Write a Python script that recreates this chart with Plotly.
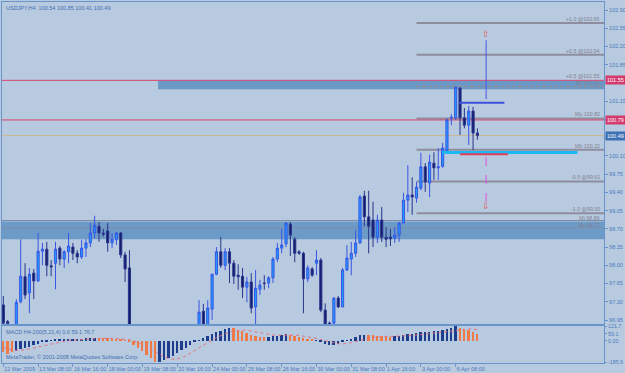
import plotly.graph_objects as go

# ---------------- data ----------------
bar_index = list(range(110))
opens = [97.24, 96.92, 96.55, 96.80, 97.30, 97.78, 97.47, 97.85, 97.70, 98.27,
         98.31, 97.99, 98.04, 98.33, 98.12, 98.26, 98.35, 98.23, 98.16, 98.33,
         98.43, 98.62, 98.75, 98.62, 98.66, 98.43, 98.49, 98.62, 98.20, 97.95,
         95.80, 95.40, 95.00, 94.60, 94.10, 93.80, 94.10, 94.40, 94.70, 95.00,
         94.80, 95.20, 95.60, 96.10, 96.40, 96.75, 97.12, 96.85, 97.16, 97.83,
         98.26, 98.00, 98.26, 98.04, 97.81, 97.79, 97.58, 97.68, 97.20, 97.54,
         97.66, 97.66, 97.76, 98.12, 98.33, 98.41, 98.79, 98.50, 98.26, 98.23,
         97.74, 97.93, 98.04, 98.10, 97.14, 96.89, 96.89, 97.37, 97.20, 97.91,
         98.12, 98.23, 98.43, 99.33, 98.93, 98.87, 98.54, 98.87, 98.54, 98.54,
         98.52, 98.58, 98.81, 99.25, 99.35, 99.29, 99.48, 99.89, 99.58, 99.96,
         99.87, 99.90, 100.20, 100.83, 100.83, 101.40, 100.83, 100.69, 100.96, 100.54]
highs = [97.41, 96.95, 96.84, 97.35, 98.50, 98.04, 97.95, 97.93, 98.62, 98.43,
         98.45, 98.10, 98.45, 98.37, 98.29, 98.62, 98.43, 98.29, 98.49, 98.50,
         98.81, 98.95, 98.83, 98.70, 98.81, 98.62, 98.64, 98.64, 98.26, 98.29,
         96.20, 95.70, 95.30, 94.90, 94.50, 94.30, 94.60, 94.90, 95.20, 95.30,
         95.40, 95.80, 96.30, 96.60, 96.80, 97.33, 97.26, 97.33, 97.83, 98.35,
         98.54, 98.33, 98.33, 98.10, 98.02, 97.95, 97.78, 97.85, 97.91, 97.72,
         97.81, 97.79, 98.16, 98.43, 98.70, 98.83, 98.83, 98.54, 98.29, 98.26,
         98.00, 97.97, 98.29, 98.14, 97.27, 96.92, 97.39, 97.41, 97.95, 98.39,
         98.45, 98.68, 99.35, 99.43, 99.43, 99.22, 98.97, 99.12, 98.73, 98.70,
         98.73, 98.83, 99.39, 99.92, 99.69, 99.60, 100.16, 99.96, 100.12, 100.17,
         100.25, 100.35, 100.82, 100.90, 101.43, 101.42, 101.02, 101.06, 101.04, 100.63]
lows = [96.80, 96.80, 96.45, 96.70, 97.27, 97.35, 97.08, 97.35, 97.68, 98.00,
        97.79, 97.79, 97.54, 98.00, 97.95, 98.04, 98.10, 98.04, 98.12, 98.16,
        98.35, 98.52, 98.45, 98.55, 98.26, 98.33, 98.39, 98.14, 97.68, 95.30,
        95.10, 94.80, 94.40, 93.90, 93.55, 93.60, 93.90, 94.20, 94.50, 94.60,
        94.70, 95.10, 95.50, 95.90, 96.20, 96.60, 96.70, 96.70, 96.95, 97.81,
        97.95, 97.91, 97.66, 97.64, 97.53, 97.37, 97.29, 97.08, 96.85, 97.43,
        97.53, 97.56, 97.66, 98.06, 98.23, 98.35, 98.18, 98.06, 98.20, 97.08,
        97.68, 97.78, 97.81, 97.10, 96.80, 96.75, 96.80, 97.18, 97.20, 97.89,
        97.81, 98.16, 98.41, 98.75, 98.23, 98.35, 98.43, 98.45, 98.35, 98.37,
        98.43, 98.45, 98.81, 99.02, 98.97, 99.20, 99.44, 99.41, 99.31, 99.64,
        99.64, 99.87, 100.17, 100.69, 100.79, 100.50, 100.63, 100.31, 100.21, 100.41]
closes = [96.89, 96.88, 96.78, 97.29, 97.79, 97.43, 97.83, 97.70, 98.27, 98.31,
          98.00, 97.97, 98.31, 98.12, 98.26, 98.37, 98.23, 98.16, 98.33, 98.43,
          98.62, 98.77, 98.62, 98.60, 98.43, 98.50, 98.62, 98.20, 97.93, 95.80,
          95.40, 95.00, 94.60, 94.10, 93.80, 94.10, 94.40, 94.70, 95.00, 94.80,
          95.20, 95.60, 96.10, 96.40, 96.70, 97.10, 96.85, 97.18, 97.83, 98.26,
          98.00, 98.26, 98.04, 97.79, 97.78, 97.58, 97.68, 97.18, 97.56, 97.62,
          97.65, 97.76, 98.12, 98.33, 98.39, 98.81, 98.58, 98.23, 98.23, 97.74,
          97.95, 97.81, 98.10, 97.14, 96.87, 96.86, 97.37, 97.20, 97.91, 98.14,
          98.23, 98.43, 99.31, 98.93, 98.75, 98.54, 98.87, 98.54, 98.50, 98.51,
          98.58, 98.81, 99.25, 99.35, 99.31, 99.50, 99.89, 99.60, 99.98, 99.87,
          99.89, 100.25, 100.79, 100.84, 101.42, 100.83, 100.69, 100.96, 100.54, 100.49]

macd_hist = [-100, -110, -95, -88, -75, -62, -50, -38, -25, -15,
             -8, 4, 8, 11, 13, 15, 16, 17, 18, 20,
             23, 26, 24, 22, 20, 18, 16, 12, 5, -15,
             -40, -65, -90, -118, -150, -185, -178, -165, -148, -128,
             -105, -82, -60, -38, -15, 5, 20, 38, 55, 70,
             85, 98, 110, 105, 95, 80, 65, 52, 42, 35,
             30, 32, 38, 44, 50, 55, 50, 42, 35, 25,
             15, 8, 3, -12, -28, -38, -36, -28, -15, 5,
             18, 28, 45, 52, 48, 45, 42, 40, 37, 35,
             38, 42, 50, 55, 58, 62, 70, 74, 78, 82,
             86, 92, 100, 106, 121, 110, 100, 90, 78, 59]
macd_rising = [0, 0, 0, 1, 1, 1, 1, 1, 1, 1,
               1, 1, 1, 1, 1, 1, 1, 1, 1, 1,
               1, 1, 0, 0, 0, 0, 0, 0, 0, 0,
               0, 0, 0, 0, 0, 0, 1, 1, 1, 1,
               1, 1, 1, 1, 1, 1, 1, 1, 1, 1,
               1, 1, 1, 0, 0, 0, 0, 0, 0, 0,
               0, 1, 1, 1, 1, 1, 0, 0, 0, 0,
               0, 0, 1, 1, 1, 1, 1, 1, 1, 1,
               1, 1, 1, 1, 0, 0, 0, 0, 0, 0,
               1, 1, 1, 1, 1, 1, 1, 1, 1, 1,
               1, 1, 1, 1, 1, 0, 0, 0, 0, 0]
macd_signal = [-60, -70, -78, -82, -82, -78, -70, -62, -52, -42,
               -33, -24, -16, -10, -5, 0, 4, 7, 9, 11,
               14, 17, 19, 20, 20, 20, 19, 17, 14, 8,
               -2, -15, -32, -50, -72, -95, -118, -138, -152, -158,
               -155, -145, -128, -108, -85, -60, -38, -15, 5, 25,
               42, 58, 72, 82, 88, 90, 88, 82, 75, 67,
               58, 52, 48, 47, 48, 50, 50, 48, 45, 40,
               33, 26, 19, 10, 0, -10, -20, -26, -28, -24,
               -17, -8, 3, 14, 22, 28, 32, 35, 36, 37,
               37, 38, 40, 42, 45, 48, 52, 56, 60, 64,
               68, 73, 78, 83, 90, 96, 99, 100, 98, 95]

date_tick_bars = [0, 8, 16, 24, 32, 40, 48, 56, 64, 72, 80, 88, 96, 104]
date_tick_labels = ["12 Mar 2009", "13 Mar 08:00", "16 Mar 16:00", "18 Mar 00:00",
                    "19 Mar 08:00", "20 Mar 16:00", "24 Mar 00:00", "25 Mar 08:00",
                    "26 Mar 16:00", "30 Mar 00:00", "31 Mar 08:00", "1 Apr 16:00",
                    "3 Apr 00:00", "6 Apr 08:00"]
# ticks hidden under the highlighted price boxes carry an empty label
price_ticks = [96.95, 97.30, 97.65, 98.00, 98.35, 98.70, 99.05, 99.40, 99.75, 100.10,
               100.45, 100.80, 101.15, 101.50, 101.85, 102.20, 102.55, 102.90]
price_tick_labels = ["96.95", "97.30", "97.65", "98.00", "98.35", "98.70", "99.05", "99.40",
                     "99.75", "100.10", "", "", "101.15", "", "101.85",
                     "102.20", "102.55", "102.90"]
macd_ticks = [121.7, 59.1, 0, -185.9]
macd_tick_labels = ["121.7", "59.1", "0.00", "-185.9"]

# level lines drawn from the projection start
level_start_bar = 95
level_prices = [102.65, 102.04, 101.55, 101.43, 100.82, 100.22, 99.61, 99.00]
level_labels = ["+1.0 @102.65", "+0.5 @102.04", "+0.5 @101.55", "Mt 101.43",
                "Mp 100.82", "Mb 100.22", "-0.5 @99.61", "-1.0 @99.00"]
lower_zone = [98.50, 98.84]
lower_zone_levels = [98.86, 98.72]
lower_zone_labels = ["Mt 98.86", "Mp 98.72"]
upper_zone = [101.38, 101.54]
upper_zone_start_bar = 35.6
red_levels = [101.55, 100.79]
bid_price = 100.49
cyan_level = 100.165
cyan_bars = [101, 132]
red_short_level = 100.13
red_short_bars = [105, 116]
target_bar = 111
up_line = [101.19, 102.32]
up_hline_level = 101.12
up_hline_bars = [104.8, 115.2]
up_arrow_price = 102.44
down_line = [100.08, 99.22]
down_arrow_price = 99.14

# ---------------- style ----------------
BG = "#B8CADF"
AX = "#6A94CC"
TXT = "#4A7ABD"
FONT = "Liberation Sans"
X_MIN, X_MAX = -0.3, 138.1
Y_MIN, Y_MAX = 96.873, 103.054

fig = go.Figure()

fig.add_trace(go.Candlestick(
    x=bar_index, open=opens, high=highs, low=lows, close=closes,
    increasing=dict(line=dict(color="#3A55E4", width=1), fillcolor="#1E9CFF"),
    decreasing=dict(line=dict(color="#2A358A", width=1), fillcolor="#11196C"),
    xaxis="x", yaxis="y", showlegend=False, hoverinfo="skip"))

macd_colors = ["#1E3D8C" if r else "#F07A45" for r in macd_rising]
fig.add_trace(go.Bar(x=bar_index, y=macd_hist, marker=dict(color=macd_colors, line=dict(width=0)),
                     width=0.42, xaxis="x2", yaxis="y2", showlegend=False, hoverinfo="skip"))
fig.add_trace(go.Scatter(x=bar_index, y=macd_signal, mode="lines",
                         line=dict(color="#E8707E", width=1, dash="dot"),
                         xaxis="x2", yaxis="y2", showlegend=False, hoverinfo="skip"))

shapes = []
shapes.append(dict(type="rect", xref="x", yref="y", x0=X_MIN, x1=X_MAX,
                   y0=lower_zone[0], y1=lower_zone[1], fillcolor="#6D9BC8",
                   line=dict(width=0), layer="below"))
shapes.append(dict(type="rect", xref="x", yref="y", x0=upper_zone_start_bar, x1=X_MAX,
                   y0=upper_zone[0], y1=upper_zone[1], fillcolor="#6A98C6",
                   line=dict(width=0), layer="below"))
for lv in lower_zone_levels:
    shapes.append(dict(type="line", xref="x", yref="y", x0=X_MIN, x1=X_MAX, y0=lv, y1=lv,
                       line=dict(color="#7F8CA6", width=1), layer="below"))
for p, lab in zip(level_prices, level_labels):
    if lab.startswith("+0.5 @101"):
        continue
    shapes.append(dict(type="line", xref="x", yref="y", x0=level_start_bar, x1=X_MAX, y0=p, y1=p,
                       line=dict(color="#8D8D9E", width=2,
                                 dash="dot" if lab.startswith("Mt") else "solid"),
                       layer="below"))
for p in red_levels:
    shapes.append(dict(type="line", xref="x", yref="y", x0=X_MIN, x1=X_MAX, y0=p, y1=p,
                       line=dict(color="#D8456E", width=1), layer="below"))
shapes.append(dict(type="line", xref="x", yref="y", x0=X_MIN, x1=X_MAX, y0=bid_price, y1=bid_price,
                   line=dict(color="#C9B98F", width=1), layer="below"))
shapes.append(dict(type="line", xref="x", yref="y", x0=cyan_bars[0], x1=cyan_bars[1],
                   y0=cyan_level, y1=cyan_level, line=dict(color="#1CB8F6", width=3)))
shapes.append(dict(type="line", xref="x", yref="y", x0=red_short_bars[0], x1=red_short_bars[1],
                   y0=red_short_level, y1=red_short_level, line=dict(color="#E0405A", width=2)))
shapes.append(dict(type="line", xref="x", yref="y", x0=target_bar, x1=target_bar,
                   y0=up_line[0], y1=up_line[1], line=dict(color="#4A55E8", width=1)))
shapes.append(dict(type="line", xref="x", yref="y", x0=up_hline_bars[0], x1=up_hline_bars[1],
                   y0=up_hline_level, y1=up_hline_level, line=dict(color="#3F50E0", width=2)))
shapes.append(dict(type="line", xref="x", yref="y", x0=target_bar, x1=target_bar,
                   y0=down_line[0], y1=down_line[1], line=dict(color="#E050E0", width=1, dash="dash")))

annotations = []
for p, lab in zip(level_prices, level_labels):
    annotations.append(dict(xref="paper", yref="y", x=1, y=p, xanchor="right", yanchor="middle",
                            xshift=-2, yshift=4, text=lab, showarrow=False,
                            font=dict(family=FONT, size=5.3, color="#80808F")))
for p, lab in zip(lower_zone_levels, lower_zone_labels):
    annotations.append(dict(xref="paper", yref="y", x=1, y=p, xanchor="right", yanchor="middle",
                            xshift=-2, yshift=3, text=lab, showarrow=False,
                            font=dict(family=FONT, size=5.3, color="#808090")))
for p, bg in [(red_levels[0], "#D43A6C"), (red_levels[1], "#D43A6C"), (bid_price, "#3D6FB5")]:
    annotations.append(dict(xref="paper", yref="y", x=1, y=p, xanchor="left", yanchor="middle",
                            xshift=1, text=f"{p:.2f}", showarrow=False, bgcolor=bg, borderpad=1,
                            font=dict(family=FONT, size=5.5, color="white")))
annotations.append(dict(xref="x", yref="y", x=target_bar, y=up_arrow_price, text="⇧", showarrow=False,
                        font=dict(family="DejaVu Sans", size=9, color="#E05A5A")))
annotations.append(dict(xref="x", yref="y", x=target_bar, y=down_arrow_price, text="⇩", showarrow=False,
                        font=dict(family="DejaVu Sans", size=9, color="#E05A5A")))
annotations.append(dict(xref="paper", yref="paper", x=0, y=1, xanchor="left", yanchor="top",
                        xshift=2, yshift=-1, text="USDJPY,H4  100.54 100.85 100.41 100.49",
                        showarrow=False, font=dict(family=FONT, size=5.5, color="#3F6FB3")))
annotations.append(dict(xref="paper", yref="y2 domain", x=0, y=1, xanchor="left", yanchor="top",
                        xshift=2, yshift=-1, text="MACD H4-200(5,21,4) 0.0 59.1 76.7",
                        showarrow=False, font=dict(family=FONT, size=5.5, color="#3F6FB3")))
annotations.append(dict(xref="paper", yref="y2 domain", x=0, y=0, xanchor="left", yanchor="bottom",
                        xshift=2, yshift=1, text="MetaTrader, © 2001-2008 MetaQuotes Software Corp.",
                        showarrow=False, font=dict(family=FONT, size=5.5, color="#3F6FB3")))

main_dom = [0.108, 1.0]
macd_dom = [0.0, 0.1025]

fig.update_layout(
    width=625, height=373,
    margin=dict(l=2, r=21, t=2, b=10, autoexpand=False),
    paper_bgcolor=BG, plot_bgcolor=BG,
    font=dict(family=FONT, size=5.5, color=TXT),
    showlegend=False, bargap=0,
    shapes=shapes, annotations=annotations,
    xaxis=dict(domain=[0, 1], anchor="y", range=[X_MIN, X_MAX], rangeslider=dict(visible=False),
               showticklabels=False, ticks="", showgrid=False, zeroline=False, automargin=False,
               showline=True, linecolor=AX, linewidth=1, mirror=True),
    yaxis=dict(domain=main_dom, anchor="x", side="right", range=[Y_MIN, Y_MAX],
               tickvals=price_ticks, ticktext=price_tick_labels, ticks="outside", ticklen=3,
               tickcolor=AX, showgrid=False, zeroline=False, automargin=False,
               showline=True, linecolor=AX, linewidth=1, mirror=True,
               tickfont=dict(family=FONT, size=5.5, color=TXT)),
    xaxis2=dict(domain=[0, 1], anchor="y2", matches="x", range=[X_MIN, X_MAX],
                tickvals=date_tick_bars, ticktext=date_tick_labels, ticks="outside", ticklen=3,
                tickangle=0, tickcolor=AX, ticklabelposition="outside right", showgrid=False,
                zeroline=False, automargin=False,
                showline=True, linecolor=AX, linewidth=1, mirror=True,
                tickfont=dict(family=FONT, size=5.5, color=TXT)),
    yaxis2=dict(domain=macd_dom, anchor="x2", side="right", range=[-190, 125],
                tickvals=macd_ticks, ticktext=macd_tick_labels, ticks="outside", ticklen=2,
                tickcolor=AX, showgrid=False, zeroline=False, automargin=False,
                showline=True, linecolor=AX, linewidth=1, mirror=True,
                tickfont=dict(family=FONT, size=5.3, color=TXT)),
)

fig.write_html("out.html")
